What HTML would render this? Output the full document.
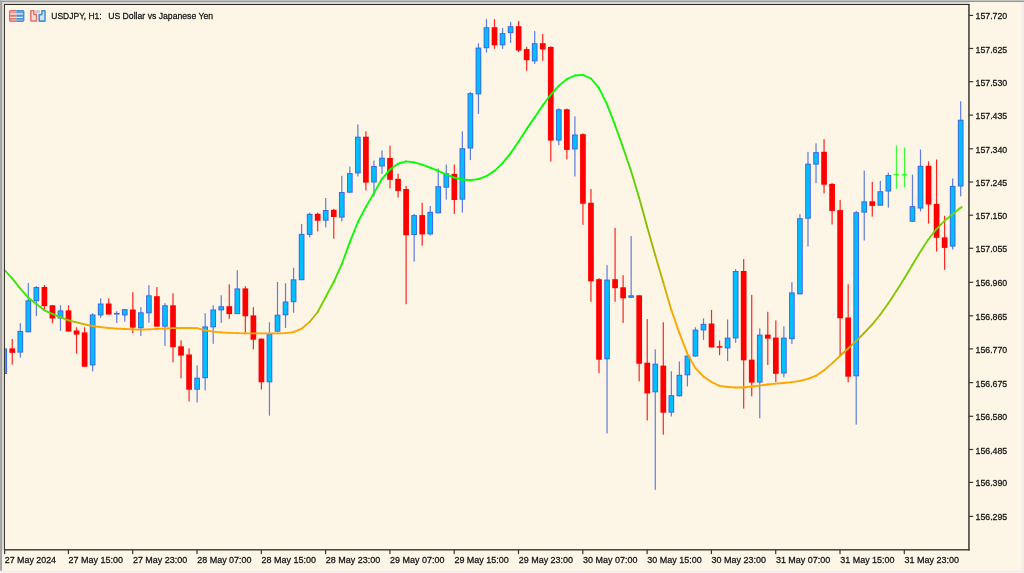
<!DOCTYPE html>
<html><head><meta charset="utf-8"><title>USDJPY, H1</title>
<style>
html,body{margin:0;padding:0;background:#fdf5e6;}
body{width:1024px;height:573px;overflow:hidden;position:relative;font-family:"Liberation Sans",sans-serif;}
svg{position:absolute;left:0;top:0;display:block}
text{font-family:"Liberation Sans",sans-serif;font-size:9.65px;fill:#161616;stroke:#161616;stroke-width:0.28px;}
</style></head><body>
<svg width="1024" height="573" viewBox="0 0 1024 573">
<rect x="0" y="0" width="1024" height="573" fill="#fdf5e6"/>
<defs><clipPath id="cl"><rect x="5" y="5" width="964" height="544"/></clipPath></defs>
<g clip-path="url(#cl)">
<rect x="3.62" y="348.4" width="1.2" height="25.6" fill="#4169e1" opacity="0.85"/><rect x="1.37" y="348.4" width="5.7" height="25.6" fill="#4169e1"/><rect x="2.37" y="349.4" width="3.7" height="23.6" fill="#00bfff"/>
<rect x="11.66" y="339.0" width="1.2" height="25.5" fill="#ff0000" opacity="0.85"/><rect x="9.41" y="348.4" width="5.7" height="4.4" fill="#ff0000"/>
<rect x="19.70" y="323.2" width="1.2" height="34.4" fill="#4169e1" opacity="0.85"/><rect x="17.45" y="331.0" width="5.7" height="21.6" fill="#4169e1"/><rect x="18.45" y="332.0" width="3.7" height="19.6" fill="#00bfff"/>
<rect x="27.73" y="283.0" width="1.2" height="49.3" fill="#4169e1" opacity="0.85"/><rect x="25.48" y="300.3" width="5.7" height="32.0" fill="#4169e1"/><rect x="26.48" y="301.3" width="3.7" height="30.0" fill="#00bfff"/>
<rect x="35.77" y="286.0" width="1.2" height="30.0" fill="#4169e1" opacity="0.85"/><rect x="33.52" y="287.0" width="5.7" height="14.2" fill="#4169e1"/><rect x="34.52" y="288.0" width="3.7" height="12.2" fill="#00bfff"/>
<rect x="43.81" y="285.0" width="1.2" height="25.4" fill="#ff0000" opacity="0.85"/><rect x="41.56" y="287.0" width="5.7" height="19.2" fill="#ff0000"/>
<rect x="51.85" y="305.0" width="1.2" height="18.2" fill="#ff0000" opacity="0.85"/><rect x="49.60" y="305.3" width="5.7" height="13.2" fill="#ff0000"/>
<rect x="59.88" y="305.3" width="1.2" height="25.5" fill="#4169e1" opacity="0.85"/><rect x="57.63" y="310.4" width="5.7" height="8.1" fill="#4169e1"/><rect x="58.63" y="311.4" width="3.7" height="6.1" fill="#00bfff"/>
<rect x="67.92" y="305.3" width="1.2" height="26.2" fill="#ff0000" opacity="0.85"/><rect x="65.67" y="310.4" width="5.7" height="21.1" fill="#ff0000"/>
<rect x="75.96" y="327.3" width="1.2" height="26.2" fill="#ff0000" opacity="0.85"/><rect x="73.71" y="330.5" width="5.7" height="4.1" fill="#ff0000"/>
<rect x="84.00" y="327.3" width="1.2" height="39.4" fill="#ff0000" opacity="0.85"/><rect x="81.75" y="332.4" width="5.7" height="34.3" fill="#ff0000"/>
<rect x="92.03" y="313.3" width="1.2" height="58.1" fill="#4169e1" opacity="0.85"/><rect x="89.78" y="314.5" width="5.7" height="50.9" fill="#4169e1"/><rect x="90.78" y="315.5" width="3.7" height="48.9" fill="#00bfff"/>
<rect x="100.07" y="298.4" width="1.2" height="19.5" fill="#4169e1" opacity="0.85"/><rect x="97.82" y="303.5" width="5.7" height="11.9" fill="#4169e1"/><rect x="98.82" y="304.5" width="3.7" height="9.9" fill="#00bfff"/>
<rect x="108.11" y="298.4" width="1.2" height="16.1" fill="#ff0000" opacity="0.85"/><rect x="105.86" y="303.5" width="5.7" height="11.0" fill="#ff0000"/>
<rect x="116.15" y="311.2" width="1.2" height="11.8" fill="#4169e1" opacity="0.85"/><rect x="113.90" y="312.9" width="5.7" height="1.6" fill="#4169e1"/>
<rect x="124.18" y="309.1" width="1.2" height="12.6" fill="#4169e1" opacity="0.85"/><rect x="121.93" y="309.1" width="5.7" height="6.3" fill="#4169e1"/><rect x="122.93" y="310.1" width="3.7" height="4.3" fill="#00bfff"/>
<rect x="132.22" y="292.2" width="1.2" height="40.8" fill="#ff0000" opacity="0.85"/><rect x="129.97" y="309.5" width="5.7" height="18.1" fill="#ff0000"/>
<rect x="140.26" y="307.2" width="1.2" height="28.7" fill="#4169e1" opacity="0.85"/><rect x="138.01" y="312.3" width="5.7" height="16.0" fill="#4169e1"/><rect x="139.01" y="313.3" width="3.7" height="14.0" fill="#00bfff"/>
<rect x="148.30" y="285.2" width="1.2" height="37.5" fill="#4169e1" opacity="0.85"/><rect x="146.05" y="295.3" width="5.7" height="18.0" fill="#4169e1"/><rect x="147.05" y="296.3" width="3.7" height="16.0" fill="#00bfff"/>
<rect x="156.33" y="287.1" width="1.2" height="39.6" fill="#ff0000" opacity="0.85"/><rect x="154.08" y="296.2" width="5.7" height="30.5" fill="#ff0000"/>
<rect x="164.37" y="303.2" width="1.2" height="42.7" fill="#4169e1" opacity="0.85"/><rect x="162.12" y="305.3" width="5.7" height="21.4" fill="#4169e1"/><rect x="163.12" y="306.3" width="3.7" height="19.4" fill="#00bfff"/>
<rect x="172.41" y="293.4" width="1.2" height="68.9" fill="#ff0000" opacity="0.85"/><rect x="170.16" y="305.3" width="5.7" height="41.9" fill="#ff0000"/>
<rect x="180.45" y="340.3" width="1.2" height="37.9" fill="#ff0000" opacity="0.85"/><rect x="178.20" y="346.3" width="5.7" height="9.3" fill="#ff0000"/>
<rect x="188.48" y="348.4" width="1.2" height="53.1" fill="#ff0000" opacity="0.85"/><rect x="186.23" y="354.5" width="5.7" height="35.2" fill="#ff0000"/>
<rect x="196.52" y="365.4" width="1.2" height="37.1" fill="#4169e1" opacity="0.85"/><rect x="194.27" y="377.7" width="5.7" height="12.0" fill="#4169e1"/><rect x="195.27" y="378.7" width="3.7" height="10.0" fill="#00bfff"/>
<rect x="204.56" y="313.3" width="1.2" height="77.0" fill="#4169e1" opacity="0.85"/><rect x="202.31" y="326.4" width="5.7" height="51.8" fill="#4169e1"/><rect x="203.31" y="327.4" width="3.7" height="49.8" fill="#00bfff"/>
<rect x="212.60" y="305.3" width="1.2" height="38.5" fill="#4169e1" opacity="0.85"/><rect x="210.35" y="309.5" width="5.7" height="17.8" fill="#4169e1"/><rect x="211.35" y="310.5" width="3.7" height="15.8" fill="#00bfff"/>
<rect x="220.64" y="295.3" width="1.2" height="27.6" fill="#4169e1" opacity="0.85"/><rect x="218.39" y="306.2" width="5.7" height="4.2" fill="#4169e1"/><rect x="219.39" y="307.2" width="3.7" height="2.2" fill="#00bfff"/>
<rect x="228.67" y="284.4" width="1.2" height="34.4" fill="#ff0000" opacity="0.85"/><rect x="226.42" y="306.2" width="5.7" height="7.9" fill="#ff0000"/>
<rect x="236.71" y="270.2" width="1.2" height="43.9" fill="#4169e1" opacity="0.85"/><rect x="234.46" y="288.4" width="5.7" height="25.7" fill="#4169e1"/><rect x="235.46" y="289.4" width="3.7" height="23.7" fill="#00bfff"/>
<rect x="244.75" y="286.2" width="1.2" height="46.8" fill="#ff0000" opacity="0.85"/><rect x="242.50" y="288.4" width="5.7" height="27.9" fill="#ff0000"/>
<rect x="252.79" y="307.2" width="1.2" height="42.1" fill="#ff0000" opacity="0.85"/><rect x="250.54" y="315.4" width="5.7" height="24.3" fill="#ff0000"/>
<rect x="260.82" y="338.6" width="1.2" height="50.9" fill="#ff0000" opacity="0.85"/><rect x="258.57" y="338.6" width="5.7" height="43.7" fill="#ff0000"/>
<rect x="268.86" y="322.3" width="1.2" height="93.3" fill="#4169e1" opacity="0.85"/><rect x="266.61" y="333.6" width="5.7" height="48.7" fill="#4169e1"/><rect x="267.61" y="334.6" width="3.7" height="46.7" fill="#00bfff"/>
<rect x="276.90" y="282.0" width="1.2" height="49.7" fill="#4169e1" opacity="0.85"/><rect x="274.65" y="314.7" width="5.7" height="17.0" fill="#4169e1"/><rect x="275.65" y="315.7" width="3.7" height="15.0" fill="#00bfff"/>
<rect x="284.94" y="283.3" width="1.2" height="44.6" fill="#4169e1" opacity="0.85"/><rect x="282.69" y="301.5" width="5.7" height="13.8" fill="#4169e1"/><rect x="283.69" y="302.5" width="3.7" height="11.8" fill="#00bfff"/>
<rect x="292.97" y="267.8" width="1.2" height="45.0" fill="#4169e1" opacity="0.85"/><rect x="290.72" y="279.3" width="5.7" height="22.9" fill="#4169e1"/><rect x="291.72" y="280.3" width="3.7" height="20.9" fill="#00bfff"/>
<rect x="301.01" y="223.9" width="1.2" height="56.3" fill="#4169e1" opacity="0.85"/><rect x="298.76" y="233.9" width="5.7" height="46.3" fill="#4169e1"/><rect x="299.76" y="234.9" width="3.7" height="44.3" fill="#00bfff"/>
<rect x="309.05" y="212.6" width="1.2" height="24.8" fill="#4169e1" opacity="0.85"/><rect x="306.80" y="213.8" width="5.7" height="21.1" fill="#4169e1"/><rect x="307.80" y="214.8" width="3.7" height="19.1" fill="#00bfff"/>
<rect x="317.09" y="212.6" width="1.2" height="18.8" fill="#ff0000" opacity="0.85"/><rect x="314.84" y="213.8" width="5.7" height="6.9" fill="#ff0000"/>
<rect x="325.12" y="197.9" width="1.2" height="29.5" fill="#4169e1" opacity="0.85"/><rect x="322.87" y="210.0" width="5.7" height="10.7" fill="#4169e1"/><rect x="323.87" y="211.0" width="3.7" height="8.7" fill="#00bfff"/>
<rect x="333.16" y="208.8" width="1.2" height="29.9" fill="#ff0000" opacity="0.85"/><rect x="330.91" y="209.8" width="5.7" height="7.2" fill="#ff0000"/>
<rect x="341.20" y="175.8" width="1.2" height="45.6" fill="#4169e1" opacity="0.85"/><rect x="338.95" y="192.0" width="5.7" height="25.6" fill="#4169e1"/><rect x="339.95" y="193.0" width="3.7" height="23.6" fill="#00bfff"/>
<rect x="349.24" y="166.6" width="1.2" height="26.1" fill="#4169e1" opacity="0.85"/><rect x="346.99" y="173.1" width="5.7" height="19.6" fill="#4169e1"/><rect x="347.99" y="174.1" width="3.7" height="17.6" fill="#00bfff"/>
<rect x="357.27" y="124.4" width="1.2" height="52.0" fill="#4169e1" opacity="0.85"/><rect x="355.02" y="136.7" width="5.7" height="36.7" fill="#4169e1"/><rect x="356.02" y="137.7" width="3.7" height="34.7" fill="#00bfff"/>
<rect x="365.31" y="131.3" width="1.2" height="59.1" fill="#ff0000" opacity="0.85"/><rect x="363.06" y="136.7" width="5.7" height="45.9" fill="#ff0000"/>
<rect x="373.35" y="160.5" width="1.2" height="36.0" fill="#4169e1" opacity="0.85"/><rect x="371.10" y="166.0" width="5.7" height="16.5" fill="#4169e1"/><rect x="372.10" y="167.0" width="3.7" height="14.5" fill="#00bfff"/>
<rect x="381.39" y="150.4" width="1.2" height="23.6" fill="#4169e1" opacity="0.85"/><rect x="379.14" y="157.7" width="5.7" height="8.8" fill="#4169e1"/><rect x="380.14" y="158.7" width="3.7" height="6.8" fill="#00bfff"/>
<rect x="389.42" y="145.7" width="1.2" height="42.7" fill="#ff0000" opacity="0.85"/><rect x="387.17" y="158.0" width="5.7" height="21.8" fill="#ff0000"/>
<rect x="397.46" y="173.8" width="1.2" height="23.7" fill="#ff0000" opacity="0.85"/><rect x="395.21" y="178.8" width="5.7" height="12.1" fill="#ff0000"/>
<rect x="405.50" y="185.9" width="1.2" height="118.3" fill="#ff0000" opacity="0.85"/><rect x="403.25" y="189.0" width="5.7" height="46.2" fill="#ff0000"/>
<rect x="413.54" y="213.9" width="1.2" height="47.7" fill="#4169e1" opacity="0.85"/><rect x="411.29" y="215.1" width="5.7" height="19.9" fill="#4169e1"/><rect x="412.29" y="216.1" width="3.7" height="17.9" fill="#00bfff"/>
<rect x="421.58" y="202.8" width="1.2" height="42.9" fill="#ff0000" opacity="0.85"/><rect x="419.33" y="215.1" width="5.7" height="19.3" fill="#ff0000"/>
<rect x="429.61" y="206.0" width="1.2" height="29.6" fill="#4169e1" opacity="0.85"/><rect x="427.36" y="211.8" width="5.7" height="22.6" fill="#4169e1"/><rect x="428.36" y="212.8" width="3.7" height="20.6" fill="#00bfff"/>
<rect x="437.65" y="168.6" width="1.2" height="44.7" fill="#4169e1" opacity="0.85"/><rect x="435.40" y="186.2" width="5.7" height="27.1" fill="#4169e1"/><rect x="436.40" y="187.2" width="3.7" height="25.1" fill="#00bfff"/>
<rect x="445.69" y="164.5" width="1.2" height="35.2" fill="#4169e1" opacity="0.85"/><rect x="443.44" y="173.3" width="5.7" height="14.4" fill="#4169e1"/><rect x="444.44" y="174.3" width="3.7" height="12.4" fill="#00bfff"/>
<rect x="453.73" y="164.5" width="1.2" height="49.4" fill="#ff0000" opacity="0.85"/><rect x="451.48" y="173.9" width="5.7" height="26.1" fill="#ff0000"/>
<rect x="461.76" y="131.4" width="1.2" height="81.2" fill="#4169e1" opacity="0.85"/><rect x="459.51" y="148.2" width="5.7" height="51.5" fill="#4169e1"/><rect x="460.51" y="149.2" width="3.7" height="49.5" fill="#00bfff"/>
<rect x="469.80" y="91.9" width="1.2" height="68.2" fill="#4169e1" opacity="0.85"/><rect x="467.55" y="93.1" width="5.7" height="55.4" fill="#4169e1"/><rect x="468.55" y="94.1" width="3.7" height="53.4" fill="#00bfff"/>
<rect x="477.84" y="43.2" width="1.2" height="70.7" fill="#4169e1" opacity="0.85"/><rect x="475.59" y="47.6" width="5.7" height="46.8" fill="#4169e1"/><rect x="476.59" y="48.6" width="3.7" height="44.8" fill="#00bfff"/>
<rect x="485.88" y="19.1" width="1.2" height="33.5" fill="#4169e1" opacity="0.85"/><rect x="483.63" y="27.2" width="5.7" height="21.0" fill="#4169e1"/><rect x="484.63" y="28.2" width="3.7" height="19.0" fill="#00bfff"/>
<rect x="493.91" y="19.1" width="1.2" height="29.7" fill="#ff0000" opacity="0.85"/><rect x="491.66" y="27.2" width="5.7" height="18.1" fill="#ff0000"/>
<rect x="501.95" y="28.1" width="1.2" height="20.7" fill="#4169e1" opacity="0.85"/><rect x="499.70" y="33.1" width="5.7" height="12.2" fill="#4169e1"/><rect x="500.70" y="34.1" width="3.7" height="10.2" fill="#00bfff"/>
<rect x="509.99" y="21.8" width="1.2" height="21.1" fill="#4169e1" opacity="0.85"/><rect x="507.74" y="26.2" width="5.7" height="6.9" fill="#4169e1"/><rect x="508.74" y="27.2" width="3.7" height="4.9" fill="#00bfff"/>
<rect x="518.03" y="20.9" width="1.2" height="31.1" fill="#ff0000" opacity="0.85"/><rect x="515.78" y="26.2" width="5.7" height="24.3" fill="#ff0000"/>
<rect x="526.06" y="46.9" width="1.2" height="23.9" fill="#ff0000" opacity="0.85"/><rect x="523.81" y="49.1" width="5.7" height="11.0" fill="#ff0000"/>
<rect x="534.10" y="31.0" width="1.2" height="32.9" fill="#4169e1" opacity="0.85"/><rect x="531.85" y="43.2" width="5.7" height="18.2" fill="#4169e1"/><rect x="532.85" y="44.2" width="3.7" height="16.2" fill="#00bfff"/>
<rect x="542.14" y="34.0" width="1.2" height="26.8" fill="#ff0000" opacity="0.85"/><rect x="539.89" y="43.2" width="5.7" height="6.3" fill="#ff0000"/>
<rect x="550.18" y="46.3" width="1.2" height="115.3" fill="#ff0000" opacity="0.85"/><rect x="547.93" y="46.9" width="5.7" height="93.7" fill="#ff0000"/>
<rect x="558.21" y="108.2" width="1.2" height="37.0" fill="#4169e1" opacity="0.85"/><rect x="555.96" y="109.3" width="5.7" height="31.3" fill="#4169e1"/><rect x="556.96" y="110.3" width="3.7" height="29.3" fill="#00bfff"/>
<rect x="566.25" y="108.5" width="1.2" height="50.9" fill="#ff0000" opacity="0.85"/><rect x="564.00" y="109.3" width="5.7" height="40.6" fill="#ff0000"/>
<rect x="574.29" y="116.3" width="1.2" height="60.1" fill="#4169e1" opacity="0.85"/><rect x="572.04" y="134.5" width="5.7" height="14.9" fill="#4169e1"/><rect x="573.04" y="135.5" width="3.7" height="12.9" fill="#00bfff"/>
<rect x="582.33" y="133.3" width="1.2" height="91.5" fill="#ff0000" opacity="0.85"/><rect x="580.08" y="134.2" width="5.7" height="69.5" fill="#ff0000"/>
<rect x="590.36" y="189.0" width="1.2" height="112.8" fill="#ff0000" opacity="0.85"/><rect x="588.11" y="202.8" width="5.7" height="78.5" fill="#ff0000"/>
<rect x="598.40" y="278.2" width="1.2" height="95.0" fill="#ff0000" opacity="0.85"/><rect x="596.15" y="279.2" width="5.7" height="80.5" fill="#ff0000"/>
<rect x="606.44" y="265.1" width="1.2" height="168.3" fill="#4169e1" opacity="0.85"/><rect x="604.19" y="279.6" width="5.7" height="79.7" fill="#4169e1"/><rect x="605.19" y="280.6" width="3.7" height="77.7" fill="#00bfff"/>
<rect x="614.48" y="227.9" width="1.2" height="73.9" fill="#ff0000" opacity="0.85"/><rect x="612.23" y="279.2" width="5.7" height="9.0" fill="#ff0000"/>
<rect x="622.52" y="275.2" width="1.2" height="47.7" fill="#ff0000" opacity="0.85"/><rect x="620.27" y="287.3" width="5.7" height="11.0" fill="#ff0000"/>
<rect x="630.55" y="236.1" width="1.2" height="61.7" fill="#4169e1" opacity="0.85"/><rect x="628.30" y="295.3" width="5.7" height="2.5" fill="#4169e1"/><rect x="629.30" y="296.3" width="3.7" height="0.5" fill="#00bfff"/>
<rect x="638.59" y="295.3" width="1.2" height="86.0" fill="#ff0000" opacity="0.85"/><rect x="636.34" y="295.3" width="5.7" height="68.4" fill="#ff0000"/>
<rect x="646.63" y="319.1" width="1.2" height="101.4" fill="#ff0000" opacity="0.85"/><rect x="644.38" y="362.7" width="5.7" height="30.7" fill="#ff0000"/>
<rect x="654.67" y="349.3" width="1.2" height="140.5" fill="#4169e1" opacity="0.85"/><rect x="652.42" y="363.7" width="5.7" height="28.6" fill="#4169e1"/><rect x="653.42" y="364.7" width="3.7" height="26.6" fill="#00bfff"/>
<rect x="662.70" y="322.3" width="1.2" height="112.3" fill="#ff0000" opacity="0.85"/><rect x="660.45" y="365.6" width="5.7" height="47.1" fill="#ff0000"/>
<rect x="670.74" y="371.3" width="1.2" height="45.1" fill="#4169e1" opacity="0.85"/><rect x="668.49" y="395.1" width="5.7" height="17.6" fill="#4169e1"/><rect x="669.49" y="396.1" width="3.7" height="15.6" fill="#00bfff"/>
<rect x="678.78" y="361.5" width="1.2" height="34.8" fill="#4169e1" opacity="0.85"/><rect x="676.53" y="374.8" width="5.7" height="21.5" fill="#4169e1"/><rect x="677.53" y="375.8" width="3.7" height="19.5" fill="#00bfff"/>
<rect x="686.82" y="355.6" width="1.2" height="30.8" fill="#4169e1" opacity="0.85"/><rect x="684.57" y="355.6" width="5.7" height="19.7" fill="#4169e1"/><rect x="685.57" y="356.6" width="3.7" height="17.7" fill="#00bfff"/>
<rect x="694.85" y="327.3" width="1.2" height="29.2" fill="#4169e1" opacity="0.85"/><rect x="692.60" y="329.6" width="5.7" height="26.9" fill="#4169e1"/><rect x="693.60" y="330.6" width="3.7" height="24.9" fill="#00bfff"/>
<rect x="702.89" y="318.3" width="1.2" height="21.6" fill="#4169e1" opacity="0.85"/><rect x="700.64" y="323.8" width="5.7" height="6.6" fill="#4169e1"/><rect x="701.64" y="324.8" width="3.7" height="4.6" fill="#00bfff"/>
<rect x="710.93" y="310.0" width="1.2" height="37.4" fill="#ff0000" opacity="0.85"/><rect x="708.68" y="323.5" width="5.7" height="23.9" fill="#ff0000"/>
<rect x="718.97" y="340.5" width="1.2" height="14.7" fill="#ff0000" opacity="0.85"/><rect x="716.72" y="346.2" width="5.7" height="1.5" fill="#ff0000"/>
<rect x="727.00" y="319.5" width="1.2" height="41.5" fill="#4169e1" opacity="0.85"/><rect x="724.75" y="337.6" width="5.7" height="10.8" fill="#4169e1"/><rect x="725.75" y="338.6" width="3.7" height="8.8" fill="#00bfff"/>
<rect x="735.04" y="269.1" width="1.2" height="73.7" fill="#4169e1" opacity="0.85"/><rect x="732.79" y="271.0" width="5.7" height="67.4" fill="#4169e1"/><rect x="733.79" y="272.0" width="3.7" height="65.4" fill="#00bfff"/>
<rect x="743.08" y="259.1" width="1.2" height="149.5" fill="#ff0000" opacity="0.85"/><rect x="740.83" y="271.0" width="5.7" height="89.3" fill="#ff0000"/>
<rect x="751.12" y="294.9" width="1.2" height="101.4" fill="#ff0000" opacity="0.85"/><rect x="748.87" y="359.7" width="5.7" height="22.9" fill="#ff0000"/>
<rect x="759.15" y="328.3" width="1.2" height="90.0" fill="#4169e1" opacity="0.85"/><rect x="756.90" y="334.6" width="5.7" height="48.0" fill="#4169e1"/><rect x="757.90" y="335.6" width="3.7" height="46.0" fill="#00bfff"/>
<rect x="767.19" y="311.8" width="1.2" height="53.2" fill="#ff0000" opacity="0.85"/><rect x="764.94" y="334.6" width="5.7" height="4.0" fill="#ff0000"/>
<rect x="775.23" y="320.4" width="1.2" height="61.6" fill="#ff0000" opacity="0.85"/><rect x="772.98" y="337.6" width="5.7" height="36.2" fill="#ff0000"/>
<rect x="783.27" y="326.4" width="1.2" height="50.9" fill="#4169e1" opacity="0.85"/><rect x="781.02" y="337.6" width="5.7" height="35.9" fill="#4169e1"/><rect x="782.02" y="338.6" width="3.7" height="33.9" fill="#00bfff"/>
<rect x="791.30" y="282.3" width="1.2" height="61.6" fill="#4169e1" opacity="0.85"/><rect x="789.05" y="292.4" width="5.7" height="46.8" fill="#4169e1"/><rect x="790.05" y="293.4" width="3.7" height="44.8" fill="#00bfff"/>
<rect x="799.34" y="214.1" width="1.2" height="80.2" fill="#4169e1" opacity="0.85"/><rect x="797.09" y="218.2" width="5.7" height="76.1" fill="#4169e1"/><rect x="798.09" y="219.2" width="3.7" height="74.1" fill="#00bfff"/>
<rect x="807.38" y="151.8" width="1.2" height="94.7" fill="#4169e1" opacity="0.85"/><rect x="805.13" y="163.7" width="5.7" height="55.0" fill="#4169e1"/><rect x="806.13" y="164.7" width="3.7" height="53.0" fill="#00bfff"/>
<rect x="815.42" y="143.4" width="1.2" height="39.8" fill="#4169e1" opacity="0.85"/><rect x="813.17" y="152.1" width="5.7" height="12.5" fill="#4169e1"/><rect x="814.17" y="153.1" width="3.7" height="10.5" fill="#00bfff"/>
<rect x="823.46" y="139.2" width="1.2" height="54.2" fill="#ff0000" opacity="0.85"/><rect x="821.21" y="151.8" width="5.7" height="32.9" fill="#ff0000"/>
<rect x="831.49" y="183.0" width="1.2" height="41.5" fill="#ff0000" opacity="0.85"/><rect x="829.24" y="183.9" width="5.7" height="27.0" fill="#ff0000"/>
<rect x="839.53" y="199.9" width="1.2" height="156.1" fill="#ff0000" opacity="0.85"/><rect x="837.28" y="210.1" width="5.7" height="108.2" fill="#ff0000"/>
<rect x="847.57" y="284.2" width="1.2" height="98.1" fill="#ff0000" opacity="0.85"/><rect x="845.32" y="317.5" width="5.7" height="59.2" fill="#ff0000"/>
<rect x="855.61" y="211.0" width="1.2" height="213.6" fill="#4169e1" opacity="0.85"/><rect x="853.36" y="212.2" width="5.7" height="164.1" fill="#4169e1"/><rect x="854.36" y="213.2" width="3.7" height="162.1" fill="#00bfff"/>
<rect x="863.64" y="170.6" width="1.2" height="69.9" fill="#4169e1" opacity="0.85"/><rect x="861.39" y="201.3" width="5.7" height="11.3" fill="#4169e1"/><rect x="862.39" y="202.3" width="3.7" height="9.3" fill="#00bfff"/>
<rect x="871.68" y="182.0" width="1.2" height="34.6" fill="#ff0000" opacity="0.85"/><rect x="869.43" y="201.3" width="5.7" height="4.6" fill="#ff0000"/>
<rect x="879.72" y="180.8" width="1.2" height="25.0" fill="#4169e1" opacity="0.85"/><rect x="877.47" y="191.2" width="5.7" height="14.5" fill="#4169e1"/><rect x="878.47" y="192.2" width="3.7" height="12.5" fill="#00bfff"/>
<rect x="887.76" y="172.7" width="1.2" height="34.9" fill="#4169e1" opacity="0.85"/><rect x="885.51" y="175.0" width="5.7" height="16.5" fill="#4169e1"/><rect x="886.51" y="176.0" width="3.7" height="14.5" fill="#00bfff"/>
<rect x="895.84" y="145.3" width="1.1" height="43.7" fill="#00ff00" opacity="0.8"/><rect x="893.69" y="174.2" width="5.4" height="1.1" fill="#00ff00" opacity="0.85"/>
<rect x="903.88" y="147.6" width="1.1" height="39.6" fill="#00ff00" opacity="0.8"/><rect x="901.73" y="174.2" width="5.4" height="1.1" fill="#00ff00" opacity="0.85"/>
<rect x="911.87" y="174.6" width="1.2" height="47.2" fill="#4169e1" opacity="0.85"/><rect x="909.62" y="206.1" width="5.7" height="15.7" fill="#4169e1"/><rect x="910.62" y="207.1" width="3.7" height="13.7" fill="#00bfff"/>
<rect x="919.91" y="149.5" width="1.2" height="61.9" fill="#4169e1" opacity="0.85"/><rect x="917.66" y="165.8" width="5.7" height="42.7" fill="#4169e1"/><rect x="918.66" y="166.8" width="3.7" height="40.7" fill="#00bfff"/>
<rect x="927.94" y="161.4" width="1.2" height="62.2" fill="#ff0000" opacity="0.85"/><rect x="925.69" y="165.8" width="5.7" height="38.7" fill="#ff0000"/>
<rect x="935.98" y="159.5" width="1.2" height="92.1" fill="#ff0000" opacity="0.85"/><rect x="933.73" y="203.9" width="5.7" height="33.9" fill="#ff0000"/>
<rect x="944.02" y="215.8" width="1.2" height="54.0" fill="#ff0000" opacity="0.85"/><rect x="941.77" y="237.4" width="5.7" height="10.5" fill="#ff0000"/>
<rect x="952.06" y="178.4" width="1.2" height="71.1" fill="#4169e1" opacity="0.85"/><rect x="949.81" y="185.9" width="5.7" height="60.7" fill="#4169e1"/><rect x="950.81" y="186.9" width="3.7" height="58.7" fill="#00bfff"/>
<rect x="960.09" y="101.3" width="1.2" height="95.0" fill="#4169e1" opacity="0.85"/><rect x="957.84" y="119.7" width="5.7" height="66.8" fill="#4169e1"/><rect x="958.84" y="120.7" width="3.7" height="64.8" fill="#00bfff"/>
<line x1="4.6" y1="270.0" x2="12.3" y2="278.6" stroke="#38e70c" stroke-width="1.85" stroke-linecap="round"/>
<line x1="12.3" y1="278.6" x2="20.3" y2="288.6" stroke="#39e60b" stroke-width="1.85" stroke-linecap="round"/>
<line x1="20.3" y1="288.6" x2="28.3" y2="297.7" stroke="#3ae60b" stroke-width="1.85" stroke-linecap="round"/>
<line x1="28.3" y1="297.7" x2="36.4" y2="304.1" stroke="#3be50a" stroke-width="1.85" stroke-linecap="round"/>
<line x1="36.4" y1="304.1" x2="44.4" y2="310.3" stroke="#3de40a" stroke-width="1.85" stroke-linecap="round"/>
<line x1="44.4" y1="310.3" x2="52.4" y2="313.9" stroke="#48df08" stroke-width="1.85" stroke-linecap="round"/>
<line x1="52.4" y1="313.9" x2="60.5" y2="317.2" stroke="#53db05" stroke-width="1.85" stroke-linecap="round"/>
<line x1="60.5" y1="317.2" x2="68.5" y2="320.3" stroke="#73cf02" stroke-width="1.85" stroke-linecap="round"/>
<line x1="68.5" y1="320.3" x2="76.6" y2="322.3" stroke="#9ac100" stroke-width="1.85" stroke-linecap="round"/>
<line x1="76.6" y1="322.3" x2="84.6" y2="324.4" stroke="#c5b200" stroke-width="1.85" stroke-linecap="round"/>
<line x1="84.6" y1="324.4" x2="92.6" y2="326.0" stroke="#e5aa00" stroke-width="1.85" stroke-linecap="round"/>
<line x1="92.6" y1="326.0" x2="100.7" y2="327.1" stroke="#ffa500" stroke-width="1.85" stroke-linecap="round"/>
<line x1="100.7" y1="327.1" x2="108.7" y2="328.0" stroke="#ffa500" stroke-width="1.85" stroke-linecap="round"/>
<line x1="108.7" y1="328.0" x2="116.7" y2="328.6" stroke="#ffa500" stroke-width="1.85" stroke-linecap="round"/>
<line x1="116.7" y1="328.6" x2="124.8" y2="329.0" stroke="#ffa500" stroke-width="1.85" stroke-linecap="round"/>
<line x1="124.8" y1="329.0" x2="132.8" y2="329.4" stroke="#ffa500" stroke-width="1.85" stroke-linecap="round"/>
<line x1="132.8" y1="329.4" x2="140.9" y2="329.6" stroke="#ffa500" stroke-width="1.85" stroke-linecap="round"/>
<line x1="140.9" y1="329.6" x2="148.9" y2="329.4" stroke="#ffa500" stroke-width="1.85" stroke-linecap="round"/>
<line x1="148.9" y1="329.4" x2="156.9" y2="328.9" stroke="#ffa500" stroke-width="1.85" stroke-linecap="round"/>
<line x1="156.9" y1="328.9" x2="165.0" y2="328.5" stroke="#ffa500" stroke-width="1.85" stroke-linecap="round"/>
<line x1="165.0" y1="328.5" x2="173.0" y2="328.1" stroke="#ffa500" stroke-width="1.85" stroke-linecap="round"/>
<line x1="173.0" y1="328.1" x2="181.0" y2="328.0" stroke="#ffa500" stroke-width="1.85" stroke-linecap="round"/>
<line x1="181.0" y1="328.0" x2="189.1" y2="328.0" stroke="#ffa500" stroke-width="1.85" stroke-linecap="round"/>
<line x1="189.1" y1="328.0" x2="197.1" y2="328.1" stroke="#ffa500" stroke-width="1.85" stroke-linecap="round"/>
<line x1="197.1" y1="328.1" x2="205.2" y2="330.3" stroke="#ffa500" stroke-width="1.85" stroke-linecap="round"/>
<line x1="205.2" y1="330.3" x2="213.2" y2="331.6" stroke="#ffa500" stroke-width="1.85" stroke-linecap="round"/>
<line x1="213.2" y1="331.6" x2="221.2" y2="332.3" stroke="#ffa500" stroke-width="1.85" stroke-linecap="round"/>
<line x1="221.2" y1="332.3" x2="229.3" y2="332.9" stroke="#ffa500" stroke-width="1.85" stroke-linecap="round"/>
<line x1="229.3" y1="332.9" x2="237.3" y2="333.2" stroke="#ffa500" stroke-width="1.85" stroke-linecap="round"/>
<line x1="237.3" y1="333.2" x2="245.3" y2="333.4" stroke="#ffa500" stroke-width="1.85" stroke-linecap="round"/>
<line x1="245.3" y1="333.4" x2="253.4" y2="333.4" stroke="#ffa500" stroke-width="1.85" stroke-linecap="round"/>
<line x1="253.4" y1="333.4" x2="261.4" y2="333.4" stroke="#ffa500" stroke-width="1.85" stroke-linecap="round"/>
<line x1="261.4" y1="333.4" x2="269.5" y2="333.4" stroke="#ffa500" stroke-width="1.85" stroke-linecap="round"/>
<line x1="269.5" y1="333.4" x2="277.5" y2="333.4" stroke="#ffa500" stroke-width="1.85" stroke-linecap="round"/>
<line x1="277.5" y1="333.4" x2="285.5" y2="333.2" stroke="#ffa500" stroke-width="1.85" stroke-linecap="round"/>
<line x1="285.5" y1="333.2" x2="293.6" y2="332.1" stroke="#ffa500" stroke-width="1.85" stroke-linecap="round"/>
<line x1="293.6" y1="332.1" x2="301.6" y2="328.7" stroke="#ffa500" stroke-width="1.85" stroke-linecap="round"/>
<line x1="301.6" y1="328.7" x2="309.6" y2="322.0" stroke="#ffa500" stroke-width="1.85" stroke-linecap="round"/>
<line x1="309.6" y1="322.0" x2="317.7" y2="312.0" stroke="#bbb300" stroke-width="1.85" stroke-linecap="round"/>
<line x1="317.7" y1="312.0" x2="325.7" y2="297.0" stroke="#79ce00" stroke-width="1.85" stroke-linecap="round"/>
<line x1="325.7" y1="297.0" x2="333.8" y2="281.8" stroke="#53df00" stroke-width="1.85" stroke-linecap="round"/>
<line x1="333.8" y1="281.8" x2="341.8" y2="264.2" stroke="#31ec00" stroke-width="1.85" stroke-linecap="round"/>
<line x1="341.8" y1="264.2" x2="349.8" y2="242.1" stroke="#15f700" stroke-width="1.85" stroke-linecap="round"/>
<line x1="349.8" y1="242.1" x2="357.9" y2="222.0" stroke="#00ff00" stroke-width="1.85" stroke-linecap="round"/>
<line x1="357.9" y1="222.0" x2="365.9" y2="206.9" stroke="#00ff00" stroke-width="1.85" stroke-linecap="round"/>
<line x1="365.9" y1="206.9" x2="373.9" y2="193.1" stroke="#00ff00" stroke-width="1.85" stroke-linecap="round"/>
<line x1="373.9" y1="193.1" x2="382.0" y2="178.8" stroke="#00ff00" stroke-width="1.85" stroke-linecap="round"/>
<line x1="382.0" y1="178.8" x2="390.0" y2="169.6" stroke="#00ff00" stroke-width="1.85" stroke-linecap="round"/>
<line x1="390.0" y1="169.6" x2="398.1" y2="163.7" stroke="#00ff00" stroke-width="1.85" stroke-linecap="round"/>
<line x1="398.1" y1="163.7" x2="406.1" y2="161.4" stroke="#00ff00" stroke-width="1.85" stroke-linecap="round"/>
<line x1="406.1" y1="161.4" x2="414.1" y2="162.3" stroke="#00ff00" stroke-width="1.85" stroke-linecap="round"/>
<line x1="414.1" y1="162.3" x2="422.2" y2="164.7" stroke="#00ff00" stroke-width="1.85" stroke-linecap="round"/>
<line x1="422.2" y1="164.7" x2="430.2" y2="167.6" stroke="#00ff00" stroke-width="1.85" stroke-linecap="round"/>
<line x1="430.2" y1="167.6" x2="438.3" y2="170.9" stroke="#00ff00" stroke-width="1.85" stroke-linecap="round"/>
<line x1="438.3" y1="170.9" x2="446.3" y2="174.5" stroke="#00ff00" stroke-width="1.85" stroke-linecap="round"/>
<line x1="446.3" y1="174.5" x2="454.3" y2="177.7" stroke="#00ff00" stroke-width="1.85" stroke-linecap="round"/>
<line x1="454.3" y1="177.7" x2="462.4" y2="179.5" stroke="#00ff00" stroke-width="1.85" stroke-linecap="round"/>
<line x1="462.4" y1="179.5" x2="470.4" y2="180.2" stroke="#00ff00" stroke-width="1.85" stroke-linecap="round"/>
<line x1="470.4" y1="180.2" x2="478.4" y2="179.2" stroke="#00ff00" stroke-width="1.85" stroke-linecap="round"/>
<line x1="478.4" y1="179.2" x2="486.5" y2="176.0" stroke="#00ff00" stroke-width="1.85" stroke-linecap="round"/>
<line x1="486.5" y1="176.0" x2="494.5" y2="170.9" stroke="#00ff00" stroke-width="1.85" stroke-linecap="round"/>
<line x1="494.5" y1="170.9" x2="502.6" y2="163.2" stroke="#00ff00" stroke-width="1.85" stroke-linecap="round"/>
<line x1="502.6" y1="163.2" x2="510.6" y2="153.3" stroke="#00ff00" stroke-width="1.85" stroke-linecap="round"/>
<line x1="510.6" y1="153.3" x2="518.6" y2="141.5" stroke="#00ff00" stroke-width="1.85" stroke-linecap="round"/>
<line x1="518.6" y1="141.5" x2="526.7" y2="128.9" stroke="#00ff00" stroke-width="1.85" stroke-linecap="round"/>
<line x1="526.7" y1="128.9" x2="534.7" y2="117.3" stroke="#00ff00" stroke-width="1.85" stroke-linecap="round"/>
<line x1="534.7" y1="117.3" x2="542.7" y2="105.5" stroke="#00ff00" stroke-width="1.85" stroke-linecap="round"/>
<line x1="542.7" y1="105.5" x2="550.8" y2="94.6" stroke="#00ff00" stroke-width="1.85" stroke-linecap="round"/>
<line x1="550.8" y1="94.6" x2="558.8" y2="85.8" stroke="#00ff00" stroke-width="1.85" stroke-linecap="round"/>
<line x1="558.8" y1="85.8" x2="566.9" y2="79.1" stroke="#00ff00" stroke-width="1.85" stroke-linecap="round"/>
<line x1="566.9" y1="79.1" x2="574.9" y2="75.5" stroke="#00ff00" stroke-width="1.85" stroke-linecap="round"/>
<line x1="574.9" y1="75.5" x2="582.9" y2="74.8" stroke="#00ff00" stroke-width="1.85" stroke-linecap="round"/>
<line x1="582.9" y1="74.8" x2="591.0" y2="78.5" stroke="#00ff00" stroke-width="1.85" stroke-linecap="round"/>
<line x1="591.0" y1="78.5" x2="599.0" y2="88.2" stroke="#00ff00" stroke-width="1.85" stroke-linecap="round"/>
<line x1="599.0" y1="88.2" x2="607.0" y2="104.2" stroke="#00ff00" stroke-width="1.85" stroke-linecap="round"/>
<line x1="607.0" y1="104.2" x2="615.1" y2="125.4" stroke="#12f600" stroke-width="1.85" stroke-linecap="round"/>
<line x1="615.1" y1="125.4" x2="623.1" y2="147.8" stroke="#26ec00" stroke-width="1.85" stroke-linecap="round"/>
<line x1="623.1" y1="147.8" x2="631.2" y2="171.5" stroke="#42de00" stroke-width="1.85" stroke-linecap="round"/>
<line x1="631.2" y1="171.5" x2="639.2" y2="198.1" stroke="#5fcf00" stroke-width="1.85" stroke-linecap="round"/>
<line x1="639.2" y1="198.1" x2="647.2" y2="227.1" stroke="#7cc200" stroke-width="1.85" stroke-linecap="round"/>
<line x1="647.2" y1="227.1" x2="655.3" y2="255.5" stroke="#98b800" stroke-width="1.85" stroke-linecap="round"/>
<line x1="655.3" y1="255.5" x2="663.3" y2="282.4" stroke="#b9b000" stroke-width="1.85" stroke-linecap="round"/>
<line x1="663.3" y1="282.4" x2="671.3" y2="309.9" stroke="#deaa00" stroke-width="1.85" stroke-linecap="round"/>
<line x1="671.3" y1="309.9" x2="679.4" y2="333.1" stroke="#ffa500" stroke-width="1.85" stroke-linecap="round"/>
<line x1="679.4" y1="333.1" x2="687.4" y2="353.9" stroke="#ffa500" stroke-width="1.85" stroke-linecap="round"/>
<line x1="687.4" y1="353.9" x2="695.5" y2="368.2" stroke="#ffa500" stroke-width="1.85" stroke-linecap="round"/>
<line x1="695.5" y1="368.2" x2="703.5" y2="376.6" stroke="#ffa500" stroke-width="1.85" stroke-linecap="round"/>
<line x1="703.5" y1="376.6" x2="711.5" y2="382.0" stroke="#ffa500" stroke-width="1.85" stroke-linecap="round"/>
<line x1="711.5" y1="382.0" x2="719.6" y2="385.9" stroke="#ffa500" stroke-width="1.85" stroke-linecap="round"/>
<line x1="719.6" y1="385.9" x2="727.6" y2="387.0" stroke="#ffa500" stroke-width="1.85" stroke-linecap="round"/>
<line x1="727.6" y1="387.0" x2="735.6" y2="387.5" stroke="#ffa500" stroke-width="1.85" stroke-linecap="round"/>
<line x1="735.6" y1="387.5" x2="743.7" y2="387.5" stroke="#ffa500" stroke-width="1.85" stroke-linecap="round"/>
<line x1="743.7" y1="387.5" x2="751.7" y2="386.5" stroke="#ffa500" stroke-width="1.85" stroke-linecap="round"/>
<line x1="751.7" y1="386.5" x2="759.8" y2="385.6" stroke="#ffa500" stroke-width="1.85" stroke-linecap="round"/>
<line x1="759.8" y1="385.6" x2="767.8" y2="384.5" stroke="#ffa500" stroke-width="1.85" stroke-linecap="round"/>
<line x1="767.8" y1="384.5" x2="775.8" y2="383.7" stroke="#ffa500" stroke-width="1.85" stroke-linecap="round"/>
<line x1="775.8" y1="383.7" x2="783.9" y2="383.0" stroke="#ffa500" stroke-width="1.85" stroke-linecap="round"/>
<line x1="783.9" y1="383.0" x2="791.9" y2="382.2" stroke="#ffa500" stroke-width="1.85" stroke-linecap="round"/>
<line x1="791.9" y1="382.2" x2="799.9" y2="380.8" stroke="#ffa500" stroke-width="1.85" stroke-linecap="round"/>
<line x1="799.9" y1="380.8" x2="808.0" y2="378.9" stroke="#ffa500" stroke-width="1.85" stroke-linecap="round"/>
<line x1="808.0" y1="378.9" x2="816.0" y2="375.7" stroke="#ffa500" stroke-width="1.85" stroke-linecap="round"/>
<line x1="816.0" y1="375.7" x2="824.1" y2="370.3" stroke="#ffa500" stroke-width="1.85" stroke-linecap="round"/>
<line x1="824.1" y1="370.3" x2="832.1" y2="363.4" stroke="#fba500" stroke-width="1.85" stroke-linecap="round"/>
<line x1="832.1" y1="363.4" x2="840.1" y2="355.8" stroke="#eba700" stroke-width="1.85" stroke-linecap="round"/>
<line x1="840.1" y1="355.8" x2="848.2" y2="348.5" stroke="#daa900" stroke-width="1.85" stroke-linecap="round"/>
<line x1="848.2" y1="348.5" x2="856.2" y2="340.9" stroke="#c9ad00" stroke-width="1.85" stroke-linecap="round"/>
<line x1="856.2" y1="340.9" x2="864.2" y2="333.0" stroke="#b8b100" stroke-width="1.85" stroke-linecap="round"/>
<line x1="864.2" y1="333.0" x2="872.3" y2="324.4" stroke="#aab600" stroke-width="1.85" stroke-linecap="round"/>
<line x1="872.3" y1="324.4" x2="880.3" y2="314.5" stroke="#9dbc00" stroke-width="1.85" stroke-linecap="round"/>
<line x1="880.3" y1="314.5" x2="888.4" y2="303.2" stroke="#90c100" stroke-width="1.85" stroke-linecap="round"/>
<line x1="888.4" y1="303.2" x2="896.4" y2="291.1" stroke="#87c500" stroke-width="1.85" stroke-linecap="round"/>
<line x1="896.4" y1="291.1" x2="904.4" y2="278.2" stroke="#7fc900" stroke-width="1.85" stroke-linecap="round"/>
<line x1="904.4" y1="278.2" x2="912.5" y2="264.8" stroke="#77cc00" stroke-width="1.85" stroke-linecap="round"/>
<line x1="912.5" y1="264.8" x2="920.5" y2="251.4" stroke="#70cf00" stroke-width="1.85" stroke-linecap="round"/>
<line x1="920.5" y1="251.4" x2="928.5" y2="239.3" stroke="#6ed102" stroke-width="1.85" stroke-linecap="round"/>
<line x1="928.5" y1="239.3" x2="936.6" y2="228.9" stroke="#6cd204" stroke-width="1.85" stroke-linecap="round"/>
<line x1="936.6" y1="228.9" x2="944.6" y2="220.9" stroke="#69d305" stroke-width="1.85" stroke-linecap="round"/>
<line x1="944.6" y1="220.9" x2="952.7" y2="213.9" stroke="#67d507" stroke-width="1.85" stroke-linecap="round"/>
<line x1="952.7" y1="213.9" x2="960.7" y2="207.7" stroke="#65d609" stroke-width="1.85" stroke-linecap="round"/>
<line x1="960.7" y1="207.7" x2="961.7" y2="207.0" stroke="#64d70a" stroke-width="1.85" stroke-linecap="round"/>
</g>
<rect x="0" y="0" width="1024" height="1.1" fill="#c3c3c3"/><rect x="0" y="1.1" width="1024" height="1" fill="#8c8c8c"/>
<rect x="2" y="2.1" width="967.7" height="1.9" fill="#dcd8cd"/>
<rect x="0" y="0" width="1.1" height="571" fill="#aaaaaa"/><rect x="1.1" y="1" width="0.9" height="570" fill="#969696"/><rect x="2" y="2.1" width="2" height="548.6" fill="#dbd7cc"/><rect x="2" y="550.7" width="2.2" height="20" fill="#f8f4ea"/>
<rect x="969.6" y="2.1" width="53" height="2" fill="#fdf5e6"/>
<rect x="0" y="570.7" width="1024" height="2.3" fill="#efede9"/><rect x="0" y="572" width="1024" height="1" fill="#f6f6f6"/><rect x="1021.7" y="2" width="2.3" height="571" fill="#f0eee9"/>
<rect x="4" y="4" width="965.7" height="1" fill="#2d2b29"/><rect x="4" y="4" width="1" height="546.4" fill="#3a3835"/>
<rect x="4" y="549.1" width="965.7" height="1.4" fill="#3a3835"/><rect x="968.2" y="4" width="1.5" height="546.5" fill="#3a3835"/>
<rect x="969" y="14.8" width="4.2" height="1.2" fill="#3a3835"/><text x="975.5" y="19.4" textLength="31.7" lengthAdjust="spacingAndGlyphs">157.720</text>
<rect x="969" y="47.9" width="4.2" height="1.2" fill="#3a3835"/><text x="975.5" y="52.5" textLength="31.7" lengthAdjust="spacingAndGlyphs">157.625</text>
<rect x="969" y="81.1" width="4.2" height="1.2" fill="#3a3835"/><text x="975.5" y="85.7" textLength="31.7" lengthAdjust="spacingAndGlyphs">157.530</text>
<rect x="969" y="114.5" width="4.2" height="1.2" fill="#3a3835"/><text x="975.5" y="119.1" textLength="31.7" lengthAdjust="spacingAndGlyphs">157.435</text>
<rect x="969" y="148.2" width="4.2" height="1.2" fill="#3a3835"/><text x="975.5" y="152.8" textLength="31.7" lengthAdjust="spacingAndGlyphs">157.340</text>
<rect x="969" y="181.4" width="4.2" height="1.2" fill="#3a3835"/><text x="975.5" y="186.0" textLength="31.7" lengthAdjust="spacingAndGlyphs">157.245</text>
<rect x="969" y="214.6" width="4.2" height="1.2" fill="#3a3835"/><text x="975.5" y="219.2" textLength="31.7" lengthAdjust="spacingAndGlyphs">157.150</text>
<rect x="969" y="247.7" width="4.2" height="1.2" fill="#3a3835"/><text x="975.5" y="252.3" textLength="31.7" lengthAdjust="spacingAndGlyphs">157.055</text>
<rect x="969" y="281.7" width="4.2" height="1.2" fill="#3a3835"/><text x="975.5" y="286.3" textLength="31.7" lengthAdjust="spacingAndGlyphs">156.960</text>
<rect x="969" y="315.2" width="4.2" height="1.2" fill="#3a3835"/><text x="975.5" y="319.8" textLength="31.7" lengthAdjust="spacingAndGlyphs">156.865</text>
<rect x="969" y="348.3" width="4.2" height="1.2" fill="#3a3835"/><text x="975.5" y="352.9" textLength="31.7" lengthAdjust="spacingAndGlyphs">156.770</text>
<rect x="969" y="382.0" width="4.2" height="1.2" fill="#3a3835"/><text x="975.5" y="386.6" textLength="31.7" lengthAdjust="spacingAndGlyphs">156.675</text>
<rect x="969" y="415.7" width="4.2" height="1.2" fill="#3a3835"/><text x="975.5" y="420.3" textLength="31.7" lengthAdjust="spacingAndGlyphs">156.580</text>
<rect x="969" y="448.9" width="4.2" height="1.2" fill="#3a3835"/><text x="975.5" y="453.5" textLength="31.7" lengthAdjust="spacingAndGlyphs">156.485</text>
<rect x="969" y="481.8" width="4.2" height="1.2" fill="#3a3835"/><text x="975.5" y="486.4" textLength="31.7" lengthAdjust="spacingAndGlyphs">156.390</text>
<rect x="969" y="515.8" width="4.2" height="1.2" fill="#3a3835"/><text x="975.5" y="520.4" textLength="31.7" lengthAdjust="spacingAndGlyphs">156.295</text>
<rect x="4.00" y="549.5" width="1.2" height="4.6" fill="#3a3835"/><text x="4.8" y="562.8" textLength="51.2" lengthAdjust="spacingAndGlyphs">27 May 2024</text>
<rect x="67.80" y="549.5" width="1.2" height="4.6" fill="#3a3835"/><text x="68.6" y="562.8" textLength="54.4" lengthAdjust="spacingAndGlyphs">27 May 15:00</text>
<rect x="132.10" y="549.5" width="1.2" height="4.6" fill="#3a3835"/><text x="132.9" y="562.8" textLength="54.4" lengthAdjust="spacingAndGlyphs">27 May 23:00</text>
<rect x="196.40" y="549.5" width="1.2" height="4.6" fill="#3a3835"/><text x="197.2" y="562.8" textLength="54.4" lengthAdjust="spacingAndGlyphs">28 May 07:00</text>
<rect x="260.70" y="549.5" width="1.2" height="4.6" fill="#3a3835"/><text x="261.5" y="562.8" textLength="54.4" lengthAdjust="spacingAndGlyphs">28 May 15:00</text>
<rect x="325.00" y="549.5" width="1.2" height="4.6" fill="#3a3835"/><text x="325.8" y="562.8" textLength="54.4" lengthAdjust="spacingAndGlyphs">28 May 23:00</text>
<rect x="389.30" y="549.5" width="1.2" height="4.6" fill="#3a3835"/><text x="390.1" y="562.8" textLength="54.4" lengthAdjust="spacingAndGlyphs">29 May 07:00</text>
<rect x="453.60" y="549.5" width="1.2" height="4.6" fill="#3a3835"/><text x="454.4" y="562.8" textLength="54.4" lengthAdjust="spacingAndGlyphs">29 May 15:00</text>
<rect x="517.90" y="549.5" width="1.2" height="4.6" fill="#3a3835"/><text x="518.7" y="562.8" textLength="54.4" lengthAdjust="spacingAndGlyphs">29 May 23:00</text>
<rect x="582.20" y="549.5" width="1.2" height="4.6" fill="#3a3835"/><text x="583.0" y="562.8" textLength="54.4" lengthAdjust="spacingAndGlyphs">30 May 07:00</text>
<rect x="646.50" y="549.5" width="1.2" height="4.6" fill="#3a3835"/><text x="647.3" y="562.8" textLength="54.4" lengthAdjust="spacingAndGlyphs">30 May 15:00</text>
<rect x="710.80" y="549.5" width="1.2" height="4.6" fill="#3a3835"/><text x="711.6" y="562.8" textLength="54.4" lengthAdjust="spacingAndGlyphs">30 May 23:00</text>
<rect x="775.10" y="549.5" width="1.2" height="4.6" fill="#3a3835"/><text x="775.9" y="562.8" textLength="54.4" lengthAdjust="spacingAndGlyphs">31 May 07:00</text>
<rect x="839.40" y="549.5" width="1.2" height="4.6" fill="#3a3835"/><text x="840.2" y="562.8" textLength="54.4" lengthAdjust="spacingAndGlyphs">31 May 15:00</text>
<rect x="903.70" y="549.5" width="1.2" height="4.6" fill="#3a3835"/><text x="904.5" y="562.8" textLength="54.4" lengthAdjust="spacingAndGlyphs">31 May 23:00</text>
<text x="51.3" y="19.45" textLength="50.4" lengthAdjust="spacingAndGlyphs">USDJPY, H1:</text><text x="108.2" y="19.45" textLength="104.9" lengthAdjust="spacingAndGlyphs">US Dollar vs Japanese Yen</text>
<g>
<path d="M10.6 9.9 H16.4 V21.9 H10.6 Q9 21.9 9 20.3 V11.5 Q9 9.9 10.6 9.9 Z" fill="#e9736d"/>
<path d="M16.4 9.9 H22.8 Q24.4 9.9 24.4 11.5 V20.3 Q24.4 21.9 22.8 21.9 H16.4 Z" fill="#4b8fd3"/>
<rect x="10.6" y="11.3" width="5.8" height="1.5" fill="#f0a8a2"/><rect x="16.4" y="11.3" width="6.4" height="1.5" fill="#6fa6dc"/>
<rect x="10.6" y="19.3" width="5.8" height="1.4" fill="#f0a8a2"/><rect x="16.4" y="19.3" width="6.4" height="1.4" fill="#8bb8e4"/>
<rect x="10.3" y="13.25" width="6.1" height="1.4" fill="#fff4ee"/><rect x="16.4" y="13.25" width="6.5" height="1.4" fill="#e2f0fb"/>
<rect x="10.3" y="16.8" width="6.1" height="1.2" fill="#fff4ee"/><rect x="16.4" y="16.8" width="6.5" height="1.2" fill="#e2f0fb"/>
<path d="M30.9 10.7 h2.9 v3.6 h2.7 v6.8 h-5.6 z" fill="#fbdcd4" stroke="#e9736d" stroke-width="1.55" stroke-linejoin="round"/>
<path d="M45.0 10.7 h-3.1 v3.9 h-2.7 v6.5 h5.8 z" fill="#cfe4f6" stroke="#4b8fd3" stroke-width="1.55" stroke-linejoin="round"/>
<rect x="35.3" y="10.1" width="4.4" height="2.9" fill="#c6cace"/>
</g>
</svg>
</body></html>
